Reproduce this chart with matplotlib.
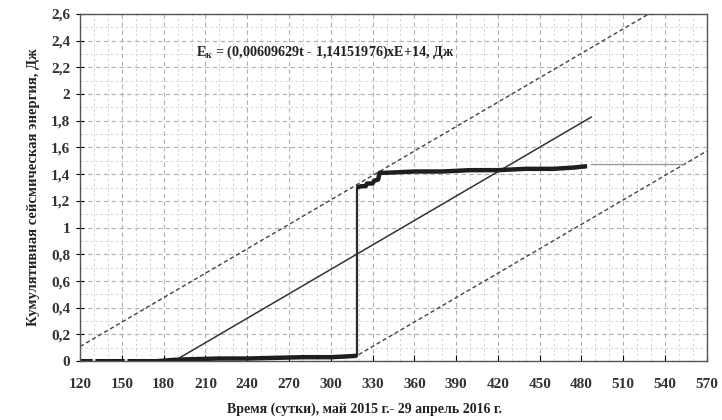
import numpy as np
import matplotlib
matplotlib.use("Agg")
import matplotlib.pyplot as plt
from matplotlib.ticker import MultipleLocator, FuncFormatter

# cumulative seismic energy, x1e14 J
low_days = [120, 129, np.nan, 131, 152, np.nan, 154, 175, 187, 200, 220, 240, 260, 280, 300, 310, 318.5]
low_energy = [0.0, 0.0, np.nan, 0.0, 0.0, np.nan, 0.0, 0.0, 0.01, 0.015, 0.02, 0.02, 0.025, 0.03, 0.03, 0.035, 0.04]
high_days = [318.5, 322, 325, 326, 330, 331, 334, 335, 339, 360, 380, 400, 420, 440, 460, 475, 484]
high_energy = [1.30, 1.31, 1.31, 1.33, 1.33, 1.35, 1.36, 1.41, 1.41, 1.42, 1.42, 1.43, 1.43, 1.44, 1.44, 1.45, 1.46]
tail_days = [487, 553]
tail_energy = [1.475, 1.475]

# regression E = (a*t + b) x 1e14
slope = 0.00609629
intercept = -1.14151976
trend_days = [187.25, 487]
upper_days = [120, 530]
upper_offset = 0.52
lower_days = [320, 570]
lower_offset = -0.76

x_ticks = list(range(120, 571, 30))
y_ticks = [0, 0.2, 0.4, 0.6, 0.8, 1.0, 1.2, 1.4, 1.6, 1.8, 2.0, 2.2, 2.4, 2.6]

serif = ["Liberation Serif", "DejaVu Serif"]

fig = plt.figure(figsize=(7.22, 4.2), dpi=100)
ax = fig.add_axes([0.111, 0.14, 0.868, 0.827])

ax.set_xlim(120, 570)
ax.set_ylim(0, 2.6)
ax.set_xticks(x_ticks)
ax.set_yticks(y_ticks)
ax.xaxis.set_minor_locator(MultipleLocator(10))
ax.yaxis.set_minor_locator(MultipleLocator(0.1))
ax.grid(which="major", color="#b0b0b0", linestyle=(0, (4, 3)), linewidth=0.8)
ax.grid(which="minor", color="#cfcfcf", linestyle=(0, (3, 3)), linewidth=0.6)
ax.set_axisbelow(True)

fmt = FuncFormatter(lambda v, p: ("%g" % round(v, 1)).replace(".", ","))
ax.yaxis.set_major_formatter(fmt)
ax.tick_params(axis="x", which="major", direction="in", length=4, pad=12)
ax.tick_params(axis="y", which="major", direction="inout", length=6, pad=4)
ax.tick_params(which="minor", length=0)
for lbl in ax.get_xticklabels() + ax.get_yticklabels():
    lbl.set_family(serif)
    lbl.set_fontweight("bold")
    lbl.set_fontsize(11)
    lbl.set_color("#333333")

for s in ax.spines.values():
    s.set_color("#555555")
    s.set_linewidth(1.0)

# regression line and band
t = np.array(trend_days)
ax.plot(t, slope * t + intercept, color="#333333", lw=1.1)
t = np.array(upper_days)
ax.plot(t, slope * t + intercept + upper_offset, color="#444444", lw=1.0, ls=(0, (3, 2)))
t = np.array(lower_days)
ax.plot(t, slope * t + intercept + lower_offset, color="#444444", lw=1.0, ls=(0, (3, 2)))

# observed cumulative energy
ax.plot([low_days[-1], high_days[0]], [low_energy[-1], high_energy[0]], color="#2a2a2a", lw=1.6)
ax.plot(low_days, low_energy, color="#1e1e1e", lw=3.2, solid_capstyle="butt")
ax.plot(high_days, high_energy, color="#1e1e1e", lw=3.2, solid_capstyle="butt")
ax.plot(tail_days, tail_energy, color="#9a9a9a", lw=1.0)

ax.text(296, 2.31, "E$_{\\mathregular{к}}$ = (0,00609629t - 1,14151976)xE+14, Дж",
        family=serif, fontweight="bold", fontsize=10.2, ha="center", va="center", color="#222222")

ax.set_xlabel("Время (сутки), май 2015 г.- 29 апрель 2016 г.", family=serif,
              fontweight="bold", fontsize=10, color="#222222")
ax.xaxis.set_label_coords(0.453, -0.118)
ax.set_ylabel("Кумулятивная сейсмическая энергия, Дж", family=serif,
              fontweight="bold", fontsize=10.5, color="#222222", labelpad=8)

fig.savefig("out.png", dpi=100)
